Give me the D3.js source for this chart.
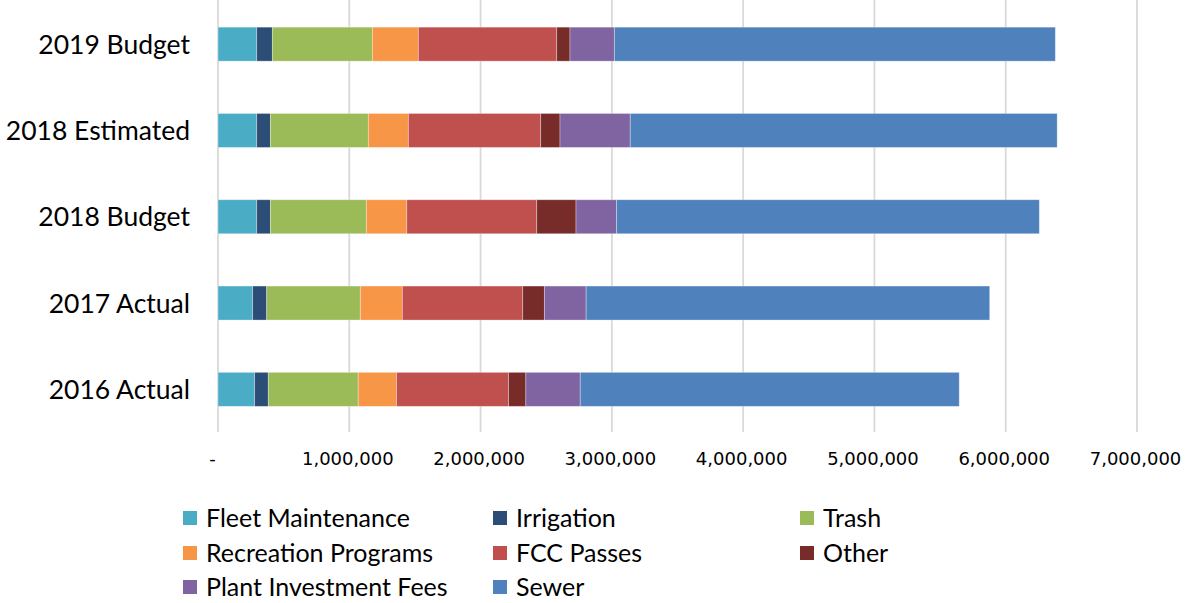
<!DOCTYPE html>
<html>
<head>
<meta charset="utf-8">
<script src="https://cdn.jsdelivr.net/npm/d3@7"></script>
<style>
  html, body { margin: 0; padding: 0; background: #fff; }
  svg { display: block; }
</style>
</head>
<body>
<svg id="chart" width="1188" height="603"></svg>
<script>
// ---- Data ----
const categories = ["2019 Budget", "2018 Estimated", "2018 Budget", "2017 Actual", "2016 Actual"];
const seriesNames = ["Fleet Maintenance", "Irrigation", "Trash", "Recreation Programs", "FCC Passes", "Other", "Plant Investment Fees", "Sewer"];
const fleetMaintenance   = [295000, 295000, 295000, 264000, 279000];
const irrigation         = [119000, 104000, 104000, 107000, 104000];
const trash              = [762000, 746000, 731000, 713000, 685000];
const recreationPrograms = [350000, 305000, 308000, 320000, 292000];
const fccPasses          = [1054000, 1008000, 990000, 917000, 853000];
const other              = [101000, 147000, 299000, 165000, 132000];
const plantInvestment    = [338000, 535000, 308000, 318000, 414000];
const sewer              = [3359000, 3252000, 3221000, 3074000, 2887000];
const tickValues = [0, 1000000, 2000000, 3000000, 4000000, 5000000, 6000000, 7000000];
const tickLabels = ["-", "1,000,000", "2,000,000", "3,000,000", "4,000,000", "5,000,000", "6,000,000", "7,000,000"];
const colors = ["#4BACC6", "#2C4D75", "#9BBB59", "#F79646", "#C0504D", "#772C2A", "#8064A2", "#4F81BD"];

const seriesValues = [fleetMaintenance, irrigation, trash, recreationPrograms, fccPasses, other, plantInvestment, sewer];
const table = categories.map((c, i) => {
  const row = { category: c };
  seriesNames.forEach((s, j) => row[s] = seriesValues[j][i]);
  return row;
});

const svg = d3.select("#chart");
const labelFont = "Lato, 'Liberation Sans', sans-serif";

const x = d3.scaleLinear().domain([0, 7000000]).range([218, 1137]);
const y = d3.scaleBand().domain(categories).range([1, 432.5]).paddingInner(0.606).paddingOuter(0.303);
const color = d3.scaleOrdinal().domain(seriesNames).range(colors);

// gridlines
svg.append("g").selectAll("line").data(tickValues).join("line")
  .attr("x1", d => x(d)).attr("x2", d => x(d))
  .attr("y1", 0).attr("y2", 432)
  .attr("stroke", "#d9d9d9").attr("stroke-width", 1.8);

// stacked bars
const stacked = d3.stack().keys(seriesNames)(table);
svg.append("g").selectAll("g").data(stacked).join("g")
  .attr("fill", d => color(d.key))
  .selectAll("rect").data(d => d).join("rect")
  .attr("x", d => x(d[0]))
  .attr("width", d => x(d[1]) - x(d[0]))
  .attr("y", d => y(d.data.category))
  .attr("height", y.bandwidth())
  .attr("stroke", "rgba(255,255,255,0.4)")
  .attr("stroke-width", 0.8);

// category axis labels
svg.append("g").selectAll("text").data(categories).join("text")
  .attr("x", 190)
  .attr("y", d => y(d) + y.bandwidth() / 2)
  .attr("dy", "0.36em")
  .attr("text-anchor", "end")
  .attr("font-family", labelFont)
  .attr("font-size", 26.5)
  .attr("fill", "#000")
  .text(d => d);

// value axis
const xAxis = d3.axisBottom(x).tickValues(tickValues).tickSize(0)
  .tickFormat((d, i) => tickLabels[i]);
const gx = svg.append("g").attr("transform", "translate(0,449)").call(xAxis);
gx.select(".domain").remove();
gx.selectAll("text")
  .attr("font-family", "'DejaVu Sans', sans-serif")
  .attr("font-size", 18)
  .attr("fill", "#000")
  .attr("dx", (d, i) => i === 0 ? -6 : -2);

// legend
const legendX = [183, 493, 800];
const legendY = [518, 553, 587];
const leg = svg.append("g").selectAll("g").data(seriesNames).join("g")
  .attr("transform", (d, i) => `translate(${legendX[i % 3]},${legendY[Math.floor(i / 3)]})`);
leg.append("rect").attr("x", 0).attr("y", -7).attr("width", 14).attr("height", 14)
  .attr("fill", d => color(d));
leg.append("text").attr("x", 23).attr("dy", "0.34em")
  .attr("font-family", labelFont).attr("font-size", 25).attr("fill", "#000")
  .text(d => d);
</script>
</body>
</html>
